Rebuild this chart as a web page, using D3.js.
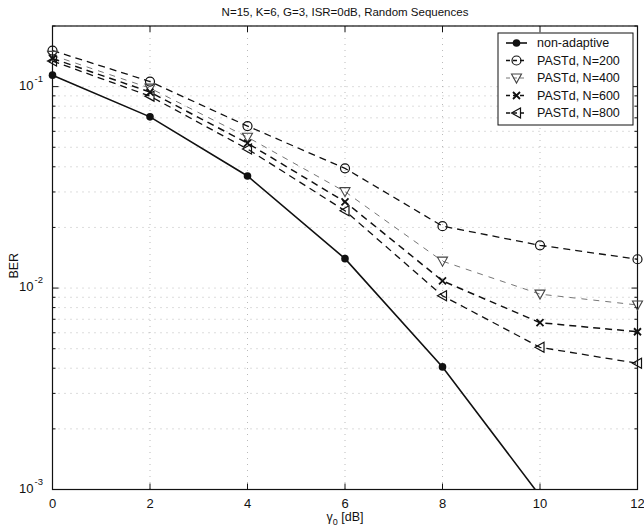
<!DOCTYPE html>
<html>
<head>
<meta charset="utf-8">
<script src="https://cdn.jsdelivr.net/npm/d3@7"></script>
<style>
  body { margin: 0; background: #fff; }
  text { font-family: "Liberation Sans", Arial, sans-serif; fill: #111; }
</style>
</head>
<body>
<div id="chart"></div>
<script>
// values
var snr = [0, 2, 4, 6, 8, 10, 12];
var snrNonAdaptive = [0, 2, 4, 6, 8, 10];
var berNonAdaptive = [0.114, 0.0708, 0.0360, 0.0140, 0.00406, 0.00093];
var berN200 = [0.151, 0.106, 0.0637, 0.0393, 0.0203, 0.0163, 0.0139];
var berN400 = [0.143, 0.0983, 0.0561, 0.0301, 0.0136, 0.00933, 0.00824];
var berN600 = [0.138, 0.094, 0.0524, 0.0268, 0.01086, 0.00673, 0.00607];
var berN800 = [0.134, 0.0897, 0.049, 0.0242, 0.00916, 0.00508, 0.00423];
var seriesNames = ["non-adaptive", "PASTd, N=200", "PASTd, N=400", "PASTd, N=600", "PASTd, N=800"];
var xTicks = [0, 2, 4, 6, 8, 10, 12];
var yMajor = [1e-3, 1e-2, 1e-1];
var yExp = ["-3", "-2", "-1"];

var W = 644, H = 530;
var pLeft = 52.5, pRight = 637.5, pTop = 26, pBottom = 489.5;

var svg = d3.select("#chart").append("svg")
    .attr("width", W)
    .attr("height", H);

var x = d3.scaleLinear().domain([0, 12]).range([pLeft, pRight]);
var y = d3.scaleLog().domain([1e-3, 0.2]).range([pBottom, pTop]);

// minor y values for grid and small ticks
var yMinor = [];
[1e-3, 1e-2, 1e-1].forEach(function (d) {
    for (var k = 2; k <= 9; k++) {
        if (d * k <= 0.2) yMinor.push(d * k);
    }
});

var grid = svg.append("g").attr("class", "grid");
xTicks.slice(1, -1).forEach(function (t) {
    grid.append("line")
        .attr("x1", x(t)).attr("x2", x(t))
        .attr("y1", pTop).attr("y2", pBottom)
        .attr("stroke", "#aaa").attr("stroke-width", 0.8)
        .attr("stroke-dasharray", "1,5");
});
yMajor.slice(1).concat(yMinor).forEach(function (t) {
    grid.append("line")
        .attr("x1", pLeft).attr("x2", pRight)
        .attr("y1", y(t)).attr("y2", y(t))
        .attr("stroke", "#aaa").attr("stroke-width", 0.8)
        .attr("stroke-dasharray", "1,5");
});

// box
svg.append("rect")
    .attr("x", pLeft).attr("y", pTop)
    .attr("width", pRight - pLeft).attr("height", pBottom - pTop)
    .attr("fill", "none").attr("stroke", "#111").attr("stroke-width", 1.2);

// ticks inside, both sides
var ticks = svg.append("g");
xTicks.forEach(function (t) {
    ticks.append("line").attr("x1", x(t)).attr("x2", x(t))
        .attr("y1", pBottom).attr("y2", pBottom - 6).attr("stroke", "#111");
    ticks.append("line").attr("x1", x(t)).attr("x2", x(t))
        .attr("y1", pTop).attr("y2", pTop + 6).attr("stroke", "#111");
    svg.append("text")
        .attr("x", x(t)).attr("y", pBottom + 18)
        .attr("text-anchor", "middle")
        .attr("font-size", 13)
        .text(t);
});
yMajor.forEach(function (t, i) {
    ticks.append("line").attr("x1", pLeft).attr("x2", pLeft + 6)
        .attr("y1", y(t)).attr("y2", y(t)).attr("stroke", "#111");
    ticks.append("line").attr("x1", pRight).attr("x2", pRight - 6)
        .attr("y1", y(t)).attr("y2", y(t)).attr("stroke", "#111");
    svg.append("text")
        .attr("x", pLeft - 19).attr("y", y(t) + 3)
        .attr("text-anchor", "end")
        .attr("font-size", 13)
        .text("10");
    svg.append("text")
        .attr("x", pLeft - 18).attr("y", y(t) - 5)
        .attr("font-size", 9.5)
        .text(yExp[i]);
});
yMinor.forEach(function (t) {
    ticks.append("line").attr("x1", pLeft).attr("x2", pLeft + 3)
        .attr("y1", y(t)).attr("y2", y(t)).attr("stroke", "#111");
    ticks.append("line").attr("x1", pRight).attr("x2", pRight - 3)
        .attr("y1", y(t)).attr("y2", y(t)).attr("stroke", "#111");
});

// labels
svg.append("text")
    .attr("x", (pLeft + pRight) / 2).attr("y", 16)
    .attr("text-anchor", "middle").attr("font-size", 11.5)
    .text("N=15, K=6, G=3, ISR=0dB, Random Sequences");

var xl = svg.append("text")
    .attr("x", (pLeft + pRight) / 2).attr("y", 521)
    .attr("text-anchor", "middle").attr("font-size", 12.5);
xl.append("tspan").text("γ");
xl.append("tspan").attr("font-size", 9).attr("dy", 4).text("0");
xl.append("tspan").attr("dy", -4).text(" [dB]");

svg.append("text")
    .attr("transform", "translate(18," + ((pTop + pBottom) / 2 + 8) + ") rotate(-90)")
    .attr("text-anchor", "middle").attr("font-size", 12.5)
    .text("BER");

// series
svg.append("clipPath").attr("id", "clip")
    .append("rect").attr("x", pLeft).attr("y", pTop)
    .attr("width", pRight - pLeft).attr("height", pBottom - pTop);

var series = [
    { xs: snrNonAdaptive, ys: berNonAdaptive, dash: null, color: "#111", width: 1.6, marker: "dot" },
    { xs: snr, ys: berN200, dash: "7,5", color: "#111", width: 1.3, marker: "circle" },
    { xs: snr, ys: berN400, dash: "6,6", color: "#666", width: 0.9, marker: "down" },
    { xs: snr, ys: berN600, dash: "7,5", color: "#111", width: 1.5, marker: "x" },
    { xs: snr, ys: berN800, dash: "7,5", color: "#111", width: 1.3, marker: "left" }
];

var line = d3.line()
    .x(function (d) { return x(d[0]); })
    .y(function (d) { return y(d[1]); });

function drawMarker(g, kind, cx, cy, color) {
    if (kind === "dot") {
        g.append("circle").attr("cx", cx).attr("cy", cy).attr("r", 3.8).attr("fill", "#111");
    } else if (kind === "circle") {
        g.append("circle").attr("cx", cx).attr("cy", cy).attr("r", 4.5)
            .attr("fill", "none").attr("stroke", color).attr("stroke-width", 1.2);
    } else if (kind === "down") {
        g.append("path").attr("d", "M" + (cx - 5) + "," + (cy - 4) + " L" + (cx + 5) + "," + (cy - 4) + " L" + cx + "," + (cy + 5) + "Z")
            .attr("fill", "none").attr("stroke", "#444").attr("stroke-width", 1.1);
    } else if (kind === "x") {
        g.append("path").attr("d", "M" + (cx - 3.5) + "," + (cy - 3.5) + " L" + (cx + 3.5) + "," + (cy + 3.5) + " M" + (cx - 3.5) + "," + (cy + 3.5) + " L" + (cx + 3.5) + "," + (cy - 3.5))
            .attr("stroke", color).attr("stroke-width", 1.8);
    } else if (kind === "left") {
        g.append("path").attr("d", "M" + (cx - 5) + "," + cy + " L" + (cx + 4) + "," + (cy - 5) + " L" + (cx + 4) + "," + (cy + 5) + "Z")
            .attr("fill", "none").attr("stroke", color).attr("stroke-width", 1.2);
    }
}

var plot = svg.append("g").attr("clip-path", "url(#clip)");
var marks = svg.append("g");
series.forEach(function (s) {
    var pts = s.xs.map(function (v, i) { return [v, s.ys[i]]; });
    plot.append("path")
        .attr("d", line(pts))
        .attr("fill", "none")
        .attr("stroke", s.color)
        .attr("stroke-width", s.width)
        .attr("stroke-dasharray", s.dash);
    pts.forEach(function (p) {
        // markers outside the y range are not shown
        if (p[1] < y.domain()[0] || p[1] > y.domain()[1]) return;
        drawMarker(marks, s.marker, x(p[0]), y(p[1]), s.color);
    });
});

// legend
var lg = svg.append("g");
lg.append("rect")
    .attr("x", 498).attr("y", 33)
    .attr("width", 135).attr("height", 92)
    .attr("fill", "#fff").attr("stroke", "#111").attr("stroke-width", 1);
series.forEach(function (s, i) {
    var ly = 43 + i * 17.5;
    lg.append("line")
        .attr("x1", 506).attr("x2", 527)
        .attr("y1", ly).attr("y2", ly)
        .attr("stroke", s.color).attr("stroke-width", s.width)
        .attr("stroke-dasharray", s.dash ? "4,3" : null);
    drawMarker(lg, s.marker, 516.5, ly, s.color);
    lg.append("text")
        .attr("x", 537).attr("y", ly + 4)
        .attr("font-size", 12.5)
        .text(seriesNames[i]);
});
</script>
</body>
</html>
